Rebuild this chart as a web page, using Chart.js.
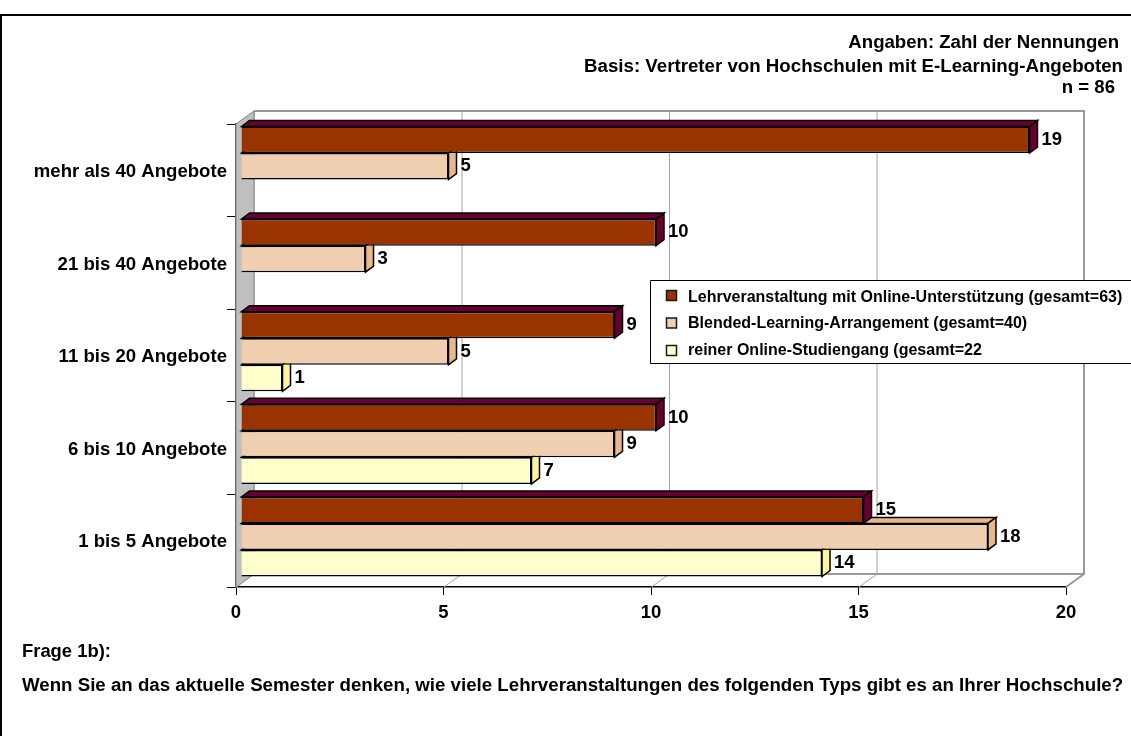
<!DOCTYPE html>
<html lang="de">
<head>
<meta charset="utf-8">
<script src="https://cdn.jsdelivr.net/npm/chart.js@4"></script>
<style>
    html, body { margin: 0; padding: 0; background: #fff; }
    body { width: 1131px; height: 736px; position: relative; overflow: hidden; font-family: "Liberation Sans", Arial, sans-serif; font-weight: bold; color: #000; }
    #frame { position: absolute; left: 0; top: 14px; width: 1140px; height: 740px; border: 2px solid #000; box-sizing: border-box; }
    #chart_box { position: absolute; left: 0; top: 0; width: 1131px; height: 736px; }
    .txt { position: absolute; white-space: nowrap; font-size: 18.7px; line-height: 20px; }
    #angaben { right: 12px; top: 32px; font-size: 18.6px; }
    #basis { right: 8px; top: 56px; }
    #anzahl { right: 16px; top: 77px; font-size: 18.6px; }
    #frage { left: 22px; top: 641px; font-size: 18.4px; }
    #frage_text { left: 22px; top: 675px; }
</style>
</head>
<body>
<div id="frame"></div>
<div id="chart_box"><canvas id="first_chart" width="1131" height="736"></canvas></div>
<div class="txt" id="angaben">Angaben: Zahl der Nennungen</div>
<div class="txt" id="basis">Basis: Vertreter von Hochschulen mit E-Learning-Angeboten</div>
<div class="txt" id="anzahl">n = 86</div>
<div class="txt" id="frage">Frage 1b):</div>
<div class="txt" id="frage_text">Wenn Sie an das aktuelle Semester denken, wie viele Lehrveranstaltungen des folgenden Typs gibt es an Ihrer Hochschule?</div>
<script>
const categories = ['mehr als 40 Angebote', '21 bis 40 Angebote', '11 bis 20 Angebote', '6 bis 10 Angebote', '1 bis 5 Angebote'];
const lehrveranstaltung = [19, 10, 9, 10, 15];
const blended = [5, 3, 5, 9, 18];
const online = [null, null, 1, 7, 14];
const seriesNames = [
    'Lehrveranstaltung mit Online-Unterstützung (gesamt=63)',
    'Blended-Learning-Arrangement (gesamt=40)',
    'reiner Online-Studiengang (gesamt=22'
];
const xTicks = [0, 5, 10, 15, 20];

const fontBold = '"Liberation Sans", Arial, sans-serif';
const depthWallX = 18, depthWallY = 13;
const depthBarX = 8, depthBarY = 6;
const barShiftX = 5, barShiftY = -4;

function face(ctx, pts, fill) {
    ctx.beginPath();
    pts.forEach((p, i) => i == 0 ? ctx.moveTo(p[0], p[1]) : ctx.lineTo(p[0], p[1]));
    ctx.closePath();
    ctx.fillStyle = fill;
    ctx.fill();
    ctx.stroke();
}

// walls and floor of the 3d box, behind the bars
const wallPlugin = {
    id: 'walls',
    beforeDatasetsDraw(chart) {
        const ctx = chart.ctx, a = chart.chartArea, x = chart.scales.x;
        ctx.save();
        ctx.lineWidth = 1;
        ctx.strokeStyle = '#808080';
        face(ctx, [[a.left, a.top], [a.left + depthWallX, a.top - depthWallY], [a.left + depthWallX, a.bottom - depthWallY], [a.left, a.bottom]], '#c0c0c0');
        ctx.lineWidth = 1;
        ctx.strokeStyle = '#a6a6a6';
        xTicks.forEach(v => {
            const px = x.getPixelForValue(v) + 0.5;
            ctx.beginPath();
            ctx.moveTo(px, a.bottom);
            ctx.lineTo(px + depthWallX, a.bottom - depthWallY);
            ctx.lineTo(px + depthWallX, a.top - depthWallY);
            ctx.stroke();
        });
        ctx.lineWidth = 2;
        ctx.strokeStyle = '#999999';
        ctx.beginPath();
        ctx.moveTo(a.left + depthWallX, a.top - depthWallY);
        ctx.lineTo(a.right + depthWallX, a.top - depthWallY);
        ctx.lineTo(a.right + depthWallX, a.bottom - depthWallY);
        ctx.lineTo(a.right, a.bottom);
        ctx.moveTo(a.left + depthWallX, a.bottom - depthWallY);
        ctx.lineTo(a.right + depthWallX, a.bottom - depthWallY);
        ctx.stroke();
        ctx.restore();
        // shift the bars off the wall, like the 3d look of the original
        ctx.save();
        ctx.translate(barShiftX, barShiftY);
    },
    beforeDatasetDraw(chart, args) {
        const ctx = chart.ctx, ds = chart.data.datasets[args.index];
        ctx.save();
        ctx.lineWidth = 1.5;
        ctx.strokeStyle = '#000';
        args.meta.data.forEach((bar, i) => {
            if (ds.data[i] == null) return;
            const top = bar.y - bar.height / 2, bottom = bar.y + bar.height / 2;
            face(ctx, [[bar.base, top], [bar.base + depthBarX, top - depthBarY], [bar.x + depthBarX, top - depthBarY], [bar.x, top]], ds.topColor);
            face(ctx, [[bar.x, top], [bar.x + depthBarX, top - depthBarY], [bar.x + depthBarX, bottom - depthBarY], [bar.x, bottom]], ds.sideColor);
        });
        ctx.restore();
    },
    afterDatasetsDraw(chart) {
        const ctx = chart.ctx;
        ctx.restore();
        // value labels
        ctx.save();
        ctx.font = 'bold 18.5px ' + fontBold;
        ctx.fillStyle = '#000';
        ctx.textAlign = 'left';
        ctx.textBaseline = 'middle';
        chart.data.datasets.forEach((ds, d) => {
            chart.getDatasetMeta(d).data.forEach((bar, i) => {
                if (ds.data[i] == null) return;
                ctx.fillText(ds.data[i], bar.x + barShiftX + depthBarX + 4, bar.y + barShiftY);
            });
        });
        ctx.restore();
        drawLegend(chart);
    }
};

function drawLegend(chart) {
    const ctx = chart.ctx;
    const boxX = 650, boxY = 280, boxH = 83;
    ctx.save();
    ctx.fillStyle = '#fff';
    ctx.strokeStyle = '#000';
    ctx.lineWidth = 1;
    ctx.fillRect(boxX, boxY, 481, boxH);
    ctx.beginPath();
    ctx.moveTo(1131, boxY + 0.5);
    ctx.lineTo(boxX + 0.5, boxY + 0.5);
    ctx.lineTo(boxX + 0.5, boxY + boxH + 0.5);
    ctx.lineTo(1131, boxY + boxH + 0.5);
    ctx.stroke();
    ctx.font = 'bold 16px ' + fontBold;
    ctx.textBaseline = 'middle';
    ctx.textAlign = 'left';
    chart.data.datasets.forEach((ds, d) => {
        const y = 297.5 + d * 26.5;
        ctx.fillStyle = ds.backgroundColor;
        ctx.strokeStyle = '#1a1a1a';
        ctx.lineWidth = 1.5;
        ctx.fillRect(666.5, y - 7 + d, 10, 10);
        ctx.strokeRect(666.5, y - 7 + d, 10, 10);
        ctx.fillStyle = '#000';
        ctx.fillText(ds.label, 688, y);
    });
    ctx.restore();
}

const data = {
    labels: categories,
    datasets: [
        { label: seriesNames[0], data: lehrveranstaltung, backgroundColor: '#993300', topColor: '#660033', sideColor: '#660033' },
        { label: seriesNames[1], data: blended, backgroundColor: '#f0cfb0', topColor: '#e8b88a', sideColor: '#e8b88a' },
        { label: seriesNames[2], data: online, backgroundColor: '#ffffcc', topColor: '#fff2a0', sideColor: '#fff2a0' }
    ]
};
data.datasets.forEach(ds => {
    ds.borderColor = '#000';
    ds.borderWidth = 1.5;
    ds.categoryPercentage = 0.86;
    ds.barPercentage = 1;
});

new Chart(document.getElementById('first_chart'), {
    type: 'bar',
    data: data,
    plugins: [wallPlugin],
    options: {
        indexAxis: 'y',
        responsive: false,
        animation: false,
        events: [],
        layout: { padding: { left: 0, top: 124, right: 65, bottom: 0 } },
        scales: {
            x: {
                min: 0,
                max: 20,
                afterBuildTicks(scale) { scale.ticks = xTicks.map(v => ({ value: v })); },
                afterFit(scale) { scale.height = 736 - 587; },
                grid: { drawOnChartArea: false, color: '#000', tickLength: 8, tickColor: '#000' },
                border: { color: '#000', width: 1.5 },
                ticks: { color: '#000', font: { family: fontBold, size: 18.5, weight: 'bold' }, padding: 7, maxRotation: 0 }
            },
            y: {
                afterFit(scale) { scale.width = 236; },
                grid: { drawOnChartArea: false, color: '#000', tickLength: 9, tickColor: '#000' },
                border: { color: '#595959', width: 2 },
                ticks: { color: '#000', font: { family: fontBold, size: 18.6, weight: 'bold' }, padding: 0, labelOffset: 1.5 }
            }
        },
        plugins: {
            legend: { display: false },
            tooltip: { enabled: false }
        }
    }
});
</script>
</body>
</html>
